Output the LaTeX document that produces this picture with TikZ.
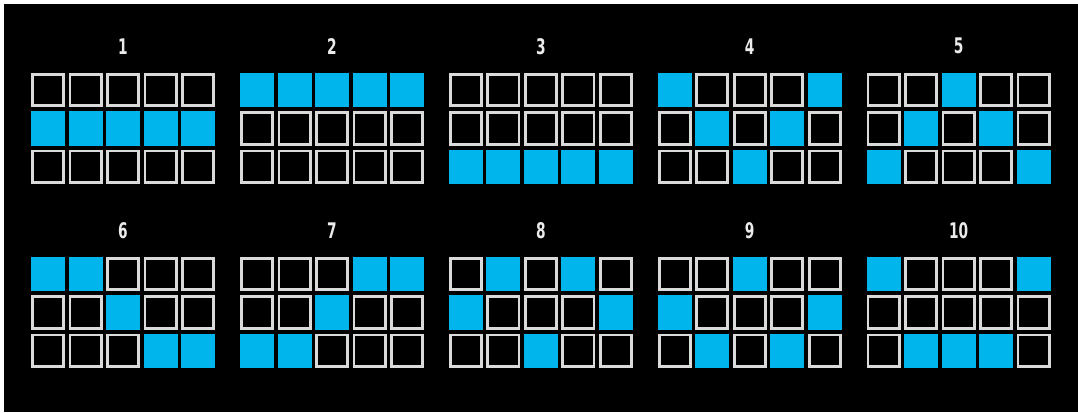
\documentclass[tikz,border=0pt]{standalone}
\usepackage{fontspec}
\newfontfamily\numfont{DejaVu Sans}[FakeStretch=0.64]
\definecolor{slotblue}{RGB}{0,181,236}
\definecolor{slotline}{RGB}{218,218,218}
\tikzset{
  blankcell/.style={draw=slotline, line width=2.8pt, fill=black, minimum width=31.2pt, minimum height=31.7pt, inner sep=0pt, outer sep=0pt, anchor=center},
  bluecell/.style={fill=slotblue, minimum width=34pt, minimum height=34.5pt, inner sep=0pt, outer sep=0pt, anchor=center},
  gridlabel/.style={text=white!92!black, font=\numfont\bfseries\fontsize{21.5}{21.5}\selectfont, inner sep=0pt, anchor=center}
}
% #1 grid id, #2 row index, #3 x0, #4 y of row top, #5 list
\newcommand\slotrow[5]{%
  \foreach \v [count=\c] in {#5} {
    \pgfmathsetmacro\cx{#3+(\c-1)*37.5+17}
    \pgfmathsetmacro\cy{#4+17.25}
    \ifnum\v=1
      \node[bluecell] (g#1r#2c\c) at (\cx,\cy) {};
    \else
      \node[blankcell] (g#1r#2c\c) at (\cx,\cy) {};
    \fi
  }%
}
\newcommand\slotgrid[6]{%
  \node[gridlabel] (lab#1) at (#2+92,#3-26.5) {#1};
  \slotrow{#1}{1}{#2}{#3}{#4}
  \slotrow{#1}{2}{#2}{#3+38.4}{#5}
  \slotrow{#1}{3}{#2}{#3+76.8}{#6}
}
\begin{document}
\begin{tikzpicture}[x=1pt,y=-1pt]
\useasboundingbox (0,0) rectangle (1078,412);
\fill[black] (0,0) rectangle (1078,412);
\fill[white] (0,0) rectangle (4,412);
\fill[white] (0,0) rectangle (1078,4);
\slotgrid{1}{31}{72.7}{0,0,0,0,0}{1,1,1,1,1}{0,0,0,0,0}
\slotgrid{2}{240}{72.7}{1,1,1,1,1}{0,0,0,0,0}{0,0,0,0,0}
\slotgrid{3}{448.8}{72.7}{0,0,0,0,0}{0,0,0,0,0}{1,1,1,1,1}
\slotgrid{4}{657.7}{72.7}{1,0,0,0,1}{0,1,0,1,0}{0,0,1,0,0}
\slotgrid{5}{866.6}{72.7}{0,0,1,0,0}{0,1,0,1,0}{1,0,0,0,1}
\slotgrid{6}{31}{256.7}{1,1,0,0,0}{0,0,1,0,0}{0,0,0,1,1}
\slotgrid{7}{240}{256.7}{0,0,0,1,1}{0,0,1,0,0}{1,1,0,0,0}
\slotgrid{8}{448.8}{256.7}{0,1,0,1,0}{1,0,0,0,1}{0,0,1,0,0}
\slotgrid{9}{657.7}{256.7}{0,0,1,0,0}{1,0,0,0,1}{0,1,0,1,0}
\slotgrid{10}{866.6}{256.7}{1,0,0,0,1}{0,0,0,0,0}{0,1,1,1,0}
\end{tikzpicture}
\end{document}
